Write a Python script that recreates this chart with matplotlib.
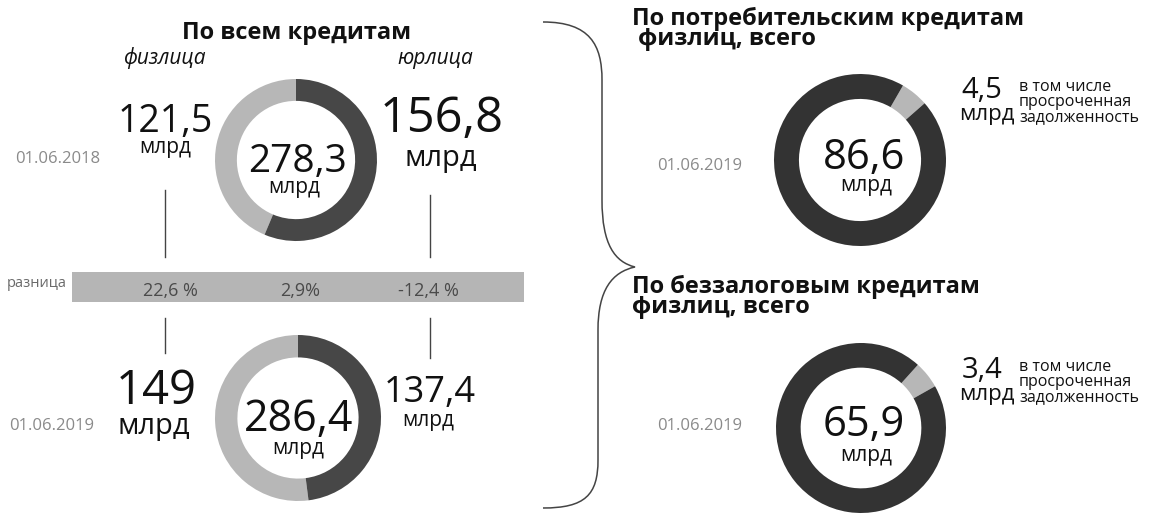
import matplotlib
matplotlib.use("Agg")
import matplotlib.pyplot as plt
from matplotlib.path import Path
from matplotlib.patches import PathPatch, Rectangle

plt.rcParams['font.family'] = ['Open Sans', 'DejaVu Sans']

# данные
dates_left = ["01.06.2018", "01.06.2019"]
fiz = [121.5, 149]
yur = [156.8, 137.4]
total = [278.3, 286.4]
diff_labels = ["22,6 %", "2,9%", "-12,4 %"]

right_titles = ["По потребительским кредитам\n физлиц, всего",
                "По беззалоговым кредитам\nфизлиц, всего"]
right_total = [86.6, 65.9]
right_overdue = [4.5, 3.4]
right_date = "01.06.2019"
note = "в том числе\nпросроченная\nзадолженность"

W, H = 1154, 529
LIGHT = "#b7b7b7"
DARK_L = "#474747"
DARK_R = "#333333"
INK = "#111111"
GREY_TXT = "#8a8a8a"


def num(v):
    s = ("%.1f" % v).rstrip("0").rstrip(".")
    return s.replace(".", ",")


fig = plt.figure(figsize=(W / 100, H / 100), dpi=100)
ax = fig.add_axes([0, 0, 1, 1])
ax.set_xlim(0, W)
ax.set_ylim(H, 0)
ax.axis("off")


def donut(cx, cy, r, vals, colors, start, ccw, w):
    a = fig.add_axes([(cx - r) / W, (H - cy - r) / H, 2 * r / W, 2 * r / H])
    a.pie(vals, colors=colors, startangle=start, counterclock=ccw,
          wedgeprops=dict(width=w, edgecolor="none"))
    a.set_xlim(-1, 1)
    a.set_ylim(-1, 1)
    a.patch.set_alpha(0)
    a.axis("off")


# левая часть: по всем кредитам
ax.text(297, 39, "По всем кредитам", fontsize=17, fontweight="bold",
        ha="center", va="baseline", color=INK)
ax.text(165, 64, "физлица", fontsize=15, style="italic", ha="center", va="baseline", color=INK)
ax.text(435, 64, "юрлица", fontsize=15, style="italic", ha="center", va="baseline", color=INK)

centers = [(296, 160, 81), (298, 418, 83)]
for i in range(2):
    cx, cy, r = centers[i]
    donut(cx, cy, r, [fiz[i], yur[i]], [LIGHT, DARK_L], 90, True, 0.27)

# 2018
ax.text(100, 163, dates_left[0], fontsize=12, color=GREY_TXT, ha="right", va="baseline")
ax.text(165, 132, num(fiz[0]), fontsize=27, ha="center", va="baseline", color=INK)
ax.text(165, 153, "млрд", fontsize=15, ha="center", va="baseline", color=INK)
ax.text(442, 132, num(yur[0]), fontsize=35, ha="center", va="baseline", color=INK)
ax.text(441, 166, "млрд", fontsize=21, ha="center", va="baseline", color=INK)
ax.text(297, 172, num(total[0]), fontsize=28, ha="center", va="baseline", color=INK)
ax.text(294, 193, "млрд", fontsize=15, ha="center", va="baseline", color=INK)

# 2019
ax.text(94, 430, dates_left[1], fontsize=12, color=GREY_TXT, ha="right", va="baseline")
ax.text(156, 404, num(fiz[1]), fontsize=34, ha="center", va="baseline", color=INK)
ax.text(154, 434, "млрд", fontsize=21, ha="center", va="baseline", color=INK)
ax.text(430, 402, num(yur[1]), fontsize=26, ha="center", va="baseline", color=INK)
ax.text(428, 426, "млрд", fontsize=15, ha="center", va="baseline", color=INK)
ax.text(299, 431, num(total[1]), fontsize=31, ha="center", va="baseline", color=INK)
ax.text(298, 454, "млрд", fontsize=15, ha="center", va="baseline", color=INK)

# соединительные линии
for x, y0, y1 in [(165, 190, 257), (430, 195, 257), (165, 318, 353), (430, 318, 358)]:
    ax.plot([x, x], [y0, y1], color="#444444", lw=1)

# полоса "разница"
ax.add_patch(Rectangle((72, 272), 452, 30, facecolor="#b5b5b5", edgecolor="none"))
ax.text(67, 287, "разница", fontsize=10.5, color="#6a6a6a", ha="right", va="baseline")
for x, lab in zip([170, 300, 428], diff_labels):
    ax.text(x, 296, lab, fontsize=13, color="#4a4a4a", ha="center", va="baseline")

# фигурная скобка
verts = [(543, 22), (590, 22), (602, 45), (602, 80),
         (602, 200),
         (602, 245), (615, 262), (635, 267),
         (612, 272), (598, 290), (598, 330),
         (598, 460),
         (598, 495), (585, 508), (543, 508)]
codes = [Path.MOVETO, Path.CURVE4, Path.CURVE4, Path.CURVE4,
         Path.LINETO,
         Path.CURVE4, Path.CURVE4, Path.CURVE4,
         Path.CURVE4, Path.CURVE4, Path.CURVE4,
         Path.LINETO,
         Path.CURVE4, Path.CURVE4, Path.CURVE4]
ax.add_patch(PathPatch(Path(verts, codes), facecolor="none", edgecolor="#444444", lw=1.1))

# правая часть
title_y = [45, 313]
rc = [(860, 160, 86), (861, 428, 85)]
starts = [60, 48]
base = [(98, 120, 90, 170, 169, 191), (378, 400, 370, 430, 436, 461)]
for i in range(2):
    cx, cy, r = rc[i]
    b = base[i]
    ax.text(632, title_y[i], right_titles[i], fontsize=17, fontweight="bold",
            ha="left", va="baseline", color=INK, linespacing=0.8)
    rest = right_total[i] - right_overdue[i]
    donut(cx, cy, r, [right_overdue[i], rest], [LIGHT, DARK_R], starts[i], False, 0.29)
    ax.text(982, b[0], num(right_overdue[i]), fontsize=21, ha="center", va="baseline", color=INK)
    ax.text(987, b[1], "млрд", fontsize=16, ha="center", va="baseline", color=INK)
    ax.text(1019, b[2] - 11, note, fontsize=11.5, ha="left", va="top",
            color=INK, linespacing=0.92)
    ax.text(700, b[3], right_date, fontsize=12, color=GREY_TXT, ha="center", va="baseline")
    ax.text(864, b[4], num(right_total[i]), fontsize=30, ha="center", va="baseline", color=INK)
    ax.text(866, b[5], "млрд", fontsize=15, ha="center", va="baseline", color=INK)

fig.savefig("out.png", dpi=100, facecolor="white")
